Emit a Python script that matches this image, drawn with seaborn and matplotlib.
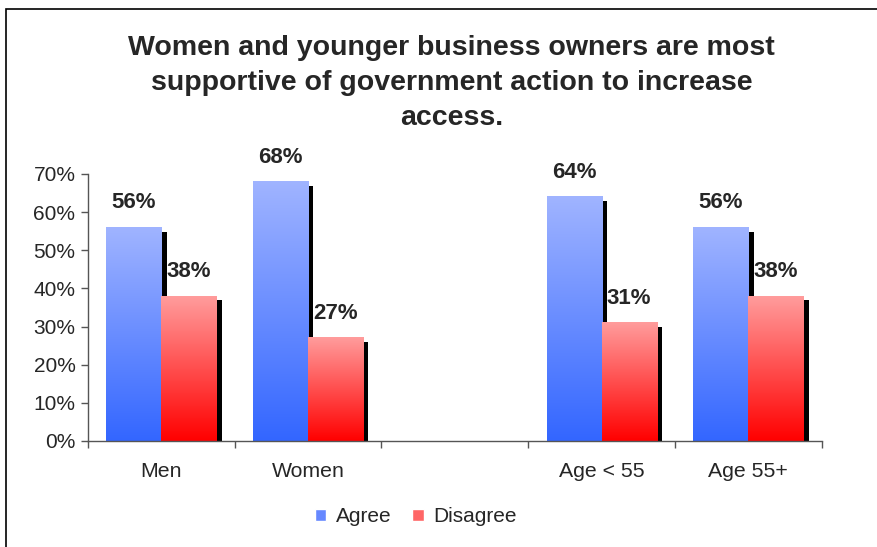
import numpy as np
import pandas as pd
import seaborn as sns
import matplotlib.pyplot as plt
from matplotlib import patheffects as pe
from matplotlib.colors import LinearSegmentedColormap
from matplotlib.patches import Rectangle

groups = ["Men", "Women", " ", "Age < 55", "Age 55+"]
agree = [56, 68, np.nan, 64, 56]
disagree = [38, 27, np.nan, 31, 38]
answers = ["Agree", "Disagree"]

df = pd.DataFrame({
    "group": groups * 2,
    "answer": ["Agree"] * 5 + ["Disagree"] * 5,
    "pct": agree + disagree,
})

sns.set_style("white")
plt.rcParams['font.family'] = ['Liberation Sans', 'DejaVu Sans']

fig = plt.figure(figsize=(8.77, 5.47), dpi=100)
ax = fig.add_axes([0.1003, 0.1938, 0.8367, 0.4882])

sns.barplot(data=df, x="group", y="pct", hue="answer", order=groups,
            hue_order=answers, palette=["#6688ff", "#ff6666"],
            width=0.75, linewidth=0, ax=ax, legend=False)

# gradient fills + black drop shadow like the old excel chart
cmaps = [LinearSegmentedColormap.from_list("a", ["#3366ff", "#a0b4ff"]),
         LinearSegmentedColormap.from_list("d", ["#ff0000", "#ff9c9c"])]
grad = np.linspace(0, 1, 256).reshape(-1, 1)
vals = [agree, disagree]
for k, cont in enumerate(ax.containers):
    for p in cont.patches:
        if p is None:
            continue
        h = p.get_height()
        if np.isnan(h):
            continue
        x, w = p.get_x(), p.get_width()
        p.set_zorder(2 + k * 0.2)
        p.set_path_effects([pe.SimplePatchShadow(offset=(3.8, -3.0), shadow_rgbFace="black", alpha=1),
                            pe.Normal()])
        ax.imshow(grad, extent=[x, x + w, 0, h], origin="lower", aspect="auto",
                  cmap=cmaps[k], zorder=2.1 + k * 0.2)
        i = int(round(x + w / 2 + (0.1875 if k == 0 else -0.1875)))
        ax.annotate(f"{vals[k][i]:.0f}%", (x + w / 2, h), xytext=(0, 10), textcoords="offset points",
                    ha="center", va="bottom", fontsize=16, fontweight="bold", zorder=5)

ax.set_xlim(-0.5, 4.5)
ax.set_ylim(0, 70)
ax.set_yticks(range(0, 71, 10))
ax.set_yticklabels([f"{t}%" for t in range(0, 71, 10)])
ax.set_xlabel("")
ax.set_ylabel("")
ax.set_xticks(np.arange(-0.5, 4.6, 1), minor=True)
ax.tick_params(axis="x", which="major", length=0, pad=15, labelsize=15.3)
ax.tick_params(axis="x", which="minor", length=5, direction="out", color="#555555", width=1, bottom=True)
ax.tick_params(axis="y", length=5, direction="out", color="#555555", width=1, left=True, labelsize=15, pad=4)
for s in ["top", "right"]:
    ax.spines[s].set_visible(False)
for s in ["left", "bottom"]:
    ax.spines[s].set_color("#555555")
    ax.spines[s].set_linewidth(1)

fig.text(0.515, 1 - 35 / 547,
         "Women and younger business owners are most\nsupportive of government action to increase\naccess.",
         ha="center", va="top", fontsize=20.5, fontweight="bold", linespacing=1.46)

handles = [Rectangle((0, 0), 1, 1, facecolor="#6688ff"), Rectangle((0, 0), 1, 1, facecolor="#ff6666")]
fig.legend(handles, answers, loc="center", bbox_to_anchor=(0.474, 0.055), ncol=2, frameon=False,
           fontsize=15, handlelength=0.55, handleheight=0.55, handletextpad=0.45, columnspacing=1.0)

# frame around the chart area
fig.patches.append(Rectangle((6 / 877, -0.2), 1.2, 1.2 - 9 / 547, transform=fig.transFigure,
                             fill=False, edgecolor="black", linewidth=1.2))

fig.savefig("out.png", dpi=100)
